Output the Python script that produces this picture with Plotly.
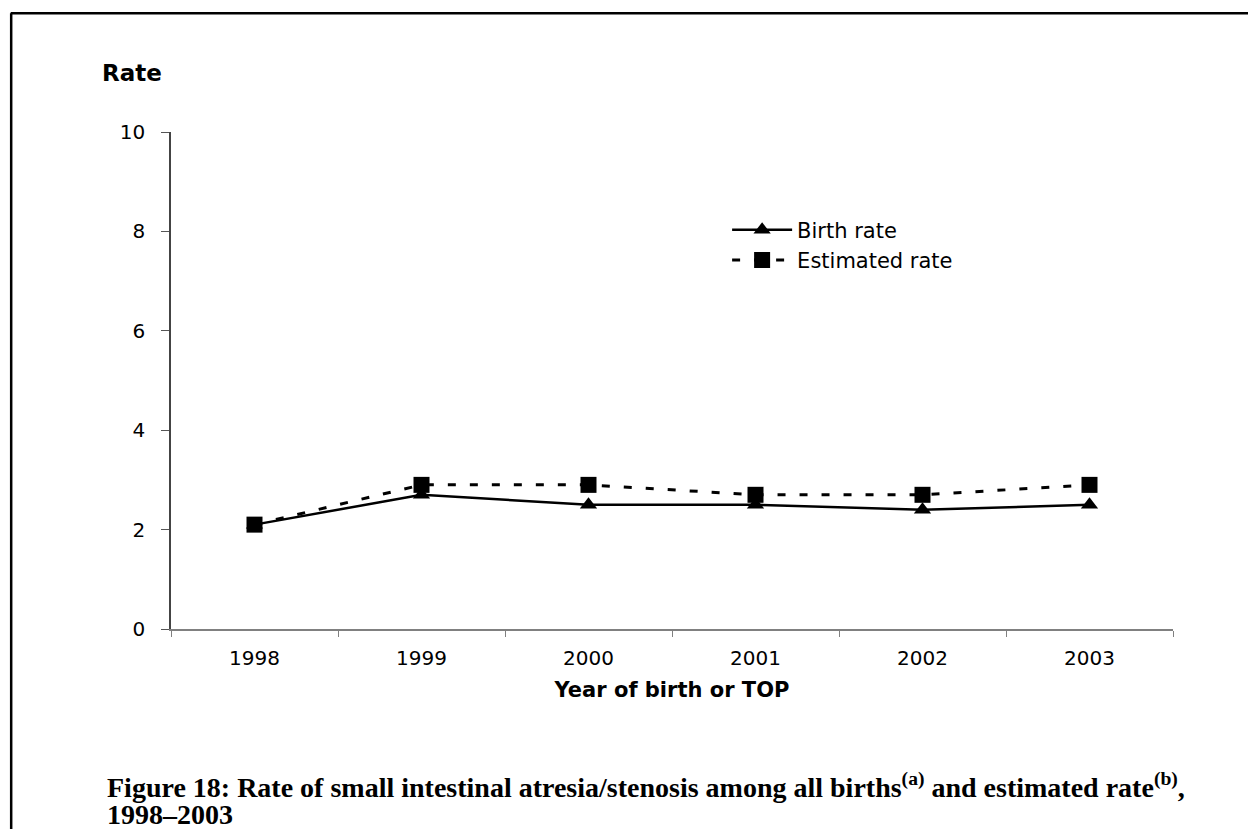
import plotly.graph_objects as go

years = ["1998", "1999", "2000", "2001", "2002", "2003"]
birth_rate = [2.1, 2.7, 2.5, 2.5, 2.4, 2.5]
estimated_rate = [2.1, 2.9, 2.9, 2.7, 2.7, 2.9]
y_ticks = [0, 2, 4, 6, 8, 10]

SANS = "DejaVu Sans, Arial, sans-serif"
SERIF = "Liberation Serif, Times New Roman, serif"

fig = go.Figure()
fig.add_trace(go.Scatter(
    x=years, y=birth_rate, name="Birth rate", mode="lines+markers",
    line=dict(color="black", width=2.5),
    marker=dict(symbol="triangle-up", size=15, color="black"),
))
fig.add_trace(go.Scatter(
    x=years, y=estimated_rate, name="Estimated rate", mode="lines+markers",
    line=dict(color="black", width=3, dash="8px,14px"),
    marker=dict(symbol="square", size=16, color="black"),
))

fig.update_layout(
    width=1256, height=829,
    margin=dict(l=163, r=91, t=124, b=208),
    paper_bgcolor="white", plot_bgcolor="white",
    font=dict(family=SANS, size=20, color="black"),
    showlegend=True,
    legend=dict(x=0.555, y=0.844, xanchor="left", yanchor="top",
                bgcolor="rgba(0,0,0,0)", itemwidth=60,
                font=dict(size=21, family=SANS), tracegroupgap=0),
    xaxis=dict(type="category", range=[-0.5, 5.5], tickson="boundaries",
               ticks="outside", ticklen=6, tickcolor="#808080", showline=True,
               linecolor="#808080", linewidth=1.5, showgrid=False, zeroline=False,
               tickfont=dict(size=20, family=SANS), ticklabelstandoff=10,
               title=dict(text="<b>Year of birth or TOP</b>", font=dict(size=21, family=SANS), standoff=14)),
    yaxis=dict(range=[0, 10], tickvals=y_ticks, ticks="outside", ticklen=8,
               tickcolor="#555", showline=True, linecolor="#444", linewidth=1.5,
               showgrid=False, zeroline=False, tickfont=dict(size=20, family=SANS),
               ticklabelstandoff=12),
)

fig.add_annotation(text="<b>Rate</b>", xref="paper", yref="paper", x=-0.039, y=1.119,
                   xanchor="center", yanchor="middle", showarrow=False,
                   font=dict(size=23, family=SANS))

fig.add_annotation(
    text="<b>Figure 18: Rate of small intestinal atresia/stenosis among all births<sup>(a)</sup> and estimated rate<sup>(b)</sup>,</b>",
    xref="paper", yref="paper", x=-0.0659, y=-0.3139, xanchor="left", yanchor="middle",
    align="left", showarrow=False,
    font=dict(size=28, family=SERIF))
fig.add_annotation(
    text="<b>1998\u20132003</b>",
    xref="paper", yref="paper", x=-0.0659, y=-0.3742, xanchor="left", yanchor="middle",
    align="left", showarrow=False,
    font=dict(size=28, family=SERIF))

# page border (top and left only)
fig.add_shape(type="line", xref="paper", yref="paper", x0=-0.16, x1=1.1, y0=1.239, y1=1.239,
              line=dict(color="black", width=2.5))
fig.add_shape(type="line", xref="paper", yref="paper", x0=-0.1595, x1=-0.1595, y0=1.239, y1=-0.5,
              line=dict(color="black", width=2.5))

fig.write_html("out.html")
